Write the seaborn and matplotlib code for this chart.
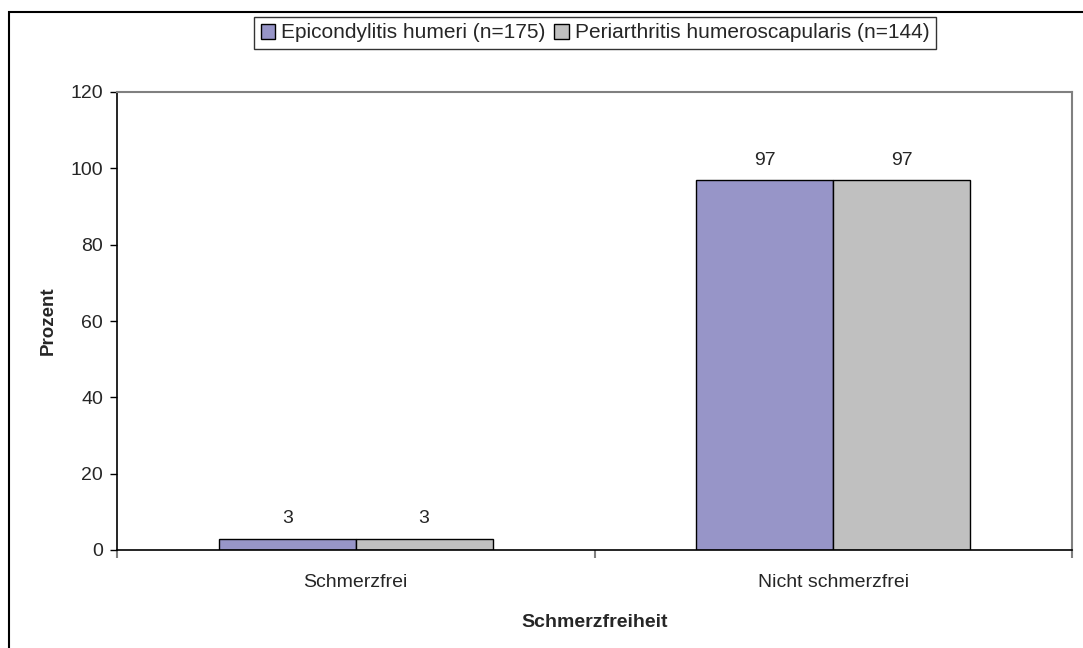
import matplotlib
matplotlib.use("Agg")
import matplotlib.pyplot as plt
import seaborn as sns
import pandas as pd
from matplotlib.patches import Rectangle

categories = ["Schmerzfrei", "Nicht schmerzfrei"]
series_names = ["Epicondylitis humeri (n=175)", "Periarthritis humeroscapularis (n=144)"]
epicondylitis = [3, 97]
periarthritis = [3, 97]
y_ticks = [0, 20, 40, 60, 80, 100, 120]

df = pd.DataFrame({
    "Kategorie": categories * 2,
    "Gruppe": [series_names[0]] * len(categories) + [series_names[1]] * len(categories),
    "Prozent": epicondylitis + periarthritis,
})

sns.set_theme(style="white")
plt.rcParams['font.family'] = ['Liberation Sans', 'DejaVu Sans']

FS = 14

fig = plt.figure(figsize=(10.83, 6.48), dpi=100)
ax = fig.add_axes([117/1083, 1-550/648, (1072-117)/1083, (550-92)/648])

palette = {series_names[0]: "#9795C8", series_names[1]: "#C0C0C0"}
sns.barplot(data=df, x="Kategorie", y="Prozent", hue="Gruppe", order=categories,
            hue_order=series_names, palette=palette, width=0.573, saturation=1,
            edgecolor="black", linewidth=1.0, ax=ax, legend=True)

for cont in ax.containers:
    ax.bar_label(cont, labels=[f"{v:g}" for v in cont.datavalues], padding=8, fontsize=FS)

ax.set_ylim(0, 120)
ax.set_xlim(-0.5, 1.5)
ax.set_yticks(y_ticks)
ax.set_yticklabels([str(t) for t in y_ticks], fontsize=FS)
ax.tick_params(axis="y", direction="out", length=5, width=1, color="black", pad=5, left=True)
ax.set_xticks([0, 1])
ax.set_xticklabels(categories, fontsize=FS)
ax.tick_params(axis="x", length=0, pad=17, bottom=True)
# category boundary ticks
ax.set_xticks([-0.5, 0.5, 1.5], minor=True)
ax.tick_params(axis="x", which="minor", direction="out", length=6, width=1.5, color="#808080", bottom=True)

ax.set_xlabel("Schmerzfreiheit", fontsize=14, fontweight="bold", labelpad=17)
ax.set_ylabel("Prozent", fontsize=13.5, fontweight="bold", labelpad=10)

for s in ["top", "right"]:
    ax.spines[s].set_color("#808080")
    ax.spines[s].set_linewidth(1.5)
for s in ["left", "bottom"]:
    ax.spines[s].set_color("black")
    ax.spines[s].set_linewidth(1.2)
ax.set_facecolor("white")

leg = ax.legend(loc="center", bbox_to_anchor=(595/1083, 1-33/648), bbox_transform=fig.transFigure,
                ncol=2, frameon=True, fancybox=False, fontsize=15, handlelength=0.7,
                handleheight=0.7, handletextpad=0.3, columnspacing=0.4, borderpad=0.3,
                edgecolor="black")
leg.get_frame().set_linewidth(1.0)
for h in leg.legend_handles:
    h.set_edgecolor("black")
    h.set_linewidth(1.0)

fig.patches.append(Rectangle((9/1083, -0.05), 1.2, 1-12/648+0.05, transform=fig.transFigure,
                             fill=False, edgecolor="black", linewidth=1.5))

fig.savefig("out.png", dpi=100)
